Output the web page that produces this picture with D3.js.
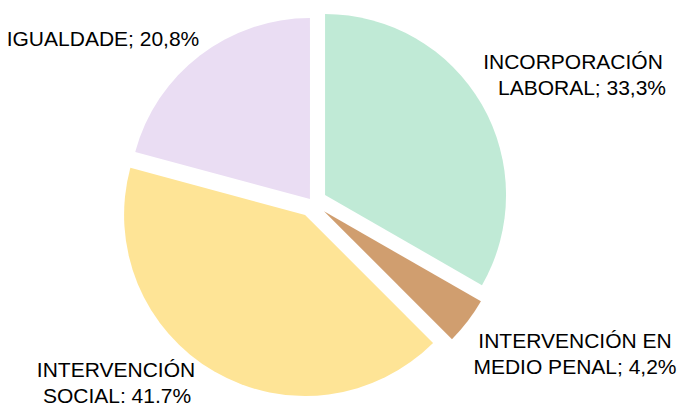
<!DOCTYPE html>
<html>
<head>
  <meta charset="utf-8">
  <script src="https://cdn.jsdelivr.net/npm/d3@7"></script>
  <style>
    body { margin: 0; background: #fff; }
    text { font-family: "Liberation Sans", Arial, sans-serif; font-size: 21px; fill: #000; }
  </style>
</head>
<body>
<script>
  'use strict';
  // data, clockwise from 12 o'clock
  var categories = ['INCORPORACIÓN LABORAL', 'INTERVENCIÓN EN MEDIO PENAL', 'INTERVENCIÓN SOCIAL', 'IGUALDADE'];
  var values = [33.3, 4.2, 41.7, 20.8];
  var labelLines = [
    ['INCORPORACIÓN', 'LABORAL; 33,3%'],
    ['INTERVENCIÓN EN', 'MEDIO PENAL; 4,2%'],
    ['INTERVENCIÓN', 'SOCIAL; 41,7%'],
    ['IGUALDADE; 20,8%']
  ];
  var colors = ['#c0ead6', '#d09e6f', '#fee496', '#eaddf3'];

  var width = 681, height = 403;
  var cx = 312.4, cy = 202.3, radius = 181;
  var explode = [14.6, 14.6, 14.6, 4];
  // label anchor (centre x, first baseline) and small per-line x shift
  var labelPos = [[573, 69], [575, 348], [116, 377], [103, 46]];
  var lineShift = [[0, 9], [0, 0], [0, 1], [0]];

  var svg = d3.select('body').append('svg')
    .attr('width', width)
    .attr('height', height);

  var pie = d3.pie().sort(null).value(function(d) { return d; });
  var arc = d3.arc().innerRadius(0).outerRadius(radius);
  var arcs = pie(values);

  var g = svg.append('g').attr('transform', 'translate(' + cx + ',' + cy + ')');

  g.selectAll('path')
    .data(arcs)
    .enter().append('path')
      .attr('d', arc)
      .attr('fill', function(d, i) { return colors[i]; })
      .attr('transform', function(d, i) {
        var mid = (d.startAngle + d.endAngle) / 2;
        return 'translate(' + (Math.sin(mid) * explode[i]) + ',' + (-Math.cos(mid) * explode[i]) + ')';
      });

  // labels
  labelLines.forEach(function(lines, i) {
    var t = svg.append('text')
      .attr('text-anchor', 'middle')
      .attr('x', labelPos[i][0])
      .attr('y', labelPos[i][1]);
    lines.forEach(function(s, j) {
      t.append('tspan')
        .attr('x', labelPos[i][0] + lineShift[i][j])
        .attr('dy', j === 0 ? 0 : 25.5)
        .text(s);
    });
  });
</script>
</body>
</html>
